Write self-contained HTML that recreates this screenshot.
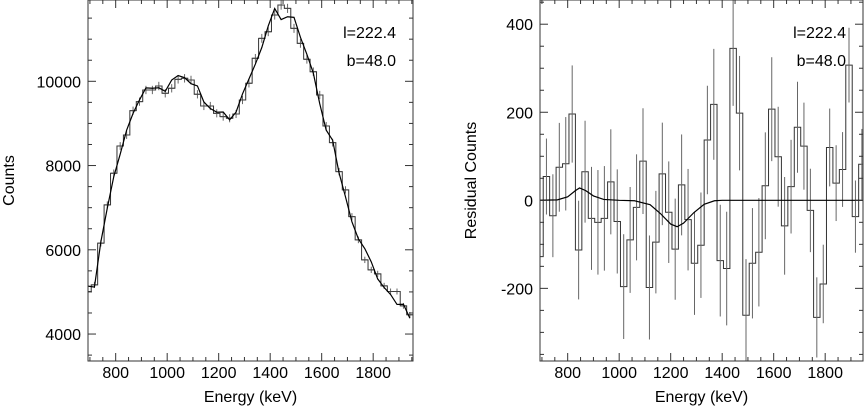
<!DOCTYPE html>
<html><head><meta charset="utf-8"><style>
html,body{margin:0;padding:0;background:#fff}
svg{display:block;font-family:"Liberation Sans",Arial,sans-serif}
</style></head><body>
<svg id="c" width="866" height="412"></svg>
<script>
const counts=[5010,5168,6157,7066,7818,8465,8726,9303,9517,9794,9794,9888,9715,9834,10047,10071,10031,9692,9414,9414,9240,9161,9122,9224,9557,9953,10546,11020,11177,11573,11810,11731,11257,10901,10522,10228,9675,8940,8544,7856,7422,6788,6236,5761,5524,5429,5144,5010,5010,4670,4457];
const resid=[-128,54,-35,75,83,196,-113,65,-41,-50,-41,42,-48,-196,-90,-16,89,-198,-95,60,-27,-111,35,-44,-143,-102,137,218,-137,-155,345,198,-261,-143,-118,33,207,99,-58,31,166,123,-23,-266,-190,120,39,70,307,-37,82];
const lineE=[680,760,800,830,846,870,900,940,1000,1060,1120,1160,1200,1225,1250,1290,1330,1370,1400,1950];
const lineV=[0,1,8,22,28,22,10,2,0,-1,-10,-30,-54,-60,-52,-28,-9,-1,0,0];
const xTicks=[800,1000,1200,1400,1600,1800];
const yTicksL=[4000,6000,8000,10000];
const yTicksR=[-200,0,200,400];
const eMin=680,binW=25;
const NS="http://www.w3.org/2000/svg";
const svg=document.getElementById('c');
function mk(t,a,p){const e=document.createElementNS(NS,t);for(const k in a)e.setAttribute(k,a[k]);(p||svg).appendChild(e);return e;}
function panel(o){
 const g=mk('g',{});
 
 
 const clipId='clip-'+o.name;
 const defs=mk('defs',{},g);const cp=mk('clipPath',{id:clipId},defs);
 mk('rect',{x:o.x0,y:o.y0,width:o.x1-o.x0,height:o.y1-o.y0},cp);
 const pg=mk('g',{'clip-path':'url(#'+clipId+')'},g);
 const X=v=>o.x0+(v-o.e0)/(o.e1-o.e0)*(o.x1-o.x0);
 const Y=v=>o.y1-(v-o.v0)/(o.v1-o.v0)*(o.y1-o.y0);
 let d='';
 o.hist.forEach((v,i)=>{const a=X(eMin+i*binW),b=X(eMin+(i+1)*binW);d+=(i?'L':'M')+a+','+Y(v)+'L'+b+','+Y(v);});
 const h=mk('path',{d:d,fill:'none',stroke:'#333','stroke-width':1},pg);
 
 
 o.hist.forEach((v,i)=>{const c=X(eMin+(i+0.5)*binW);const er=o.err(i);
  const l=mk('line',{x1:c,x2:c,y1:Y(v-er),y2:Y(v+er),stroke:'#666','stroke-width':1},pg);
  
  
  if(o.cross){mk('line',{x1:c-3,x2:c+3,y1:Y(v),y2:Y(v),stroke:'#444','stroke-width':1},pg);}
 });
 const p=o.model.map(q=>X(q[0])+','+Y(q[1])).join(' ');
 const m=mk('polyline',{points:p,fill:'none',stroke:'#000','stroke-width':1.2},pg);
 
 
 const f=mk('rect',{x:o.x0,y:o.y0,width:o.x1-o.x0,height:o.y1-o.y0,fill:'none',stroke:'#333','stroke-width':1},g);
 
 
 for(let e=700;e<=1950;e+=50){const x=X(e);if(x<o.x0||x>o.x1)continue;const L=e%200==0?8:4;
  mk('line',{x1:x,x2:x,y1:o.y1,y2:o.y1-L,stroke:'#333'},g);mk('line',{x1:x,x2:x,y1:o.y0,y2:o.y0+L,stroke:'#333'},g);}
 xTicks.forEach(e=>{const t=mk('text',{x:X(e),y:o.y1+17,'text-anchor':'middle','font-size':16},g);t.textContent=e;
  
  });
 for(let v=Math.ceil(o.v0/o.minor)*o.minor;v<=o.v1;v+=o.minor){const y=Y(v);const L=(v%o.major==0)?8:4;
  mk('line',{x1:o.x0,x2:o.x0+L,y1:y,y2:y,stroke:'#333'},g);mk('line',{x1:o.x1,x2:o.x1-L,y1:y,y2:y,stroke:'#333'},g);}
 o.yt.forEach(v=>{const t=mk('text',{x:o.x0-7,y:Y(v)+6,'text-anchor':'end','font-size':16},g);t.textContent=v;
  
  });
 const xt=mk('text',{x:(o.x0+o.x1)/2,y:402,'text-anchor':'middle','font-size':16},g);xt.textContent='Energy (keV)';
 
 
 const yt=mk('text',{x:0,y:0,'text-anchor':'middle','font-size':16,transform:'translate('+o.ytx+','+(o.y1/2)+') rotate(-90)'},g);yt.textContent=o.ytitle;
 
 
 const a1=mk('text',{x:o.x1-17,y:38,'text-anchor':'end','font-size':16},g);a1.textContent='l=222.4';
 
 
 const a2=mk('text',{x:o.x1-17,y:66,'text-anchor':'end','font-size':16},g);a2.textContent='b=48.0';
 
 
}
const e0=692.5,pxPerKeV=0.2575;
panel({name:'counts-panel',x0:88,x1:413,y0:0,y1:361,e0:e0,e1:e0+325/pxPerKeV,v0:3360,v1:11930,hist:counts,
 err:i=>Math.sqrt(counts[i]),cross:true,
 model:counts.map((v,i)=>[eMin+(i+0.5)*binW,v-resid[i]]),
 yt:yTicksL,minor:500,major:2000,ytitle:'Counts',ytx:14});
panel({name:'residual-panel',x0:540,x1:863,y0:0,y1:361,e0:e0,e1:e0+323/pxPerKeV,v0:-365,v1:455,hist:resid,
 err:i=>Math.sqrt(counts[i])*1.2,cross:false,
 model:lineE.map((e,i)=>[e,lineV[i]]),
 yt:yTicksR,minor:50,major:200,ytitle:'Residual Counts',ytx:476});
</script>
</body></html>
